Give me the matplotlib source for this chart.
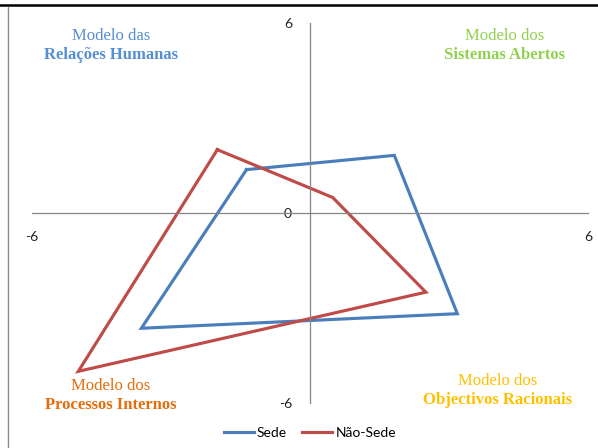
import matplotlib
matplotlib.use("Agg")
from matplotlib import pyplot as plt
from matplotlib.lines import Line2D

# Quadrant order: Relações Humanas, Sistemas Abertos, Objectivos Racionais, Processos Internos
sede_x = [-1.37, 1.82, 3.18, -3.64]
sede_y = [1.37, 1.82, -3.18, -3.64]
nao_sede_x = [-2.0, 0.49, 2.5, -5.0]
nao_sede_y = [2.0, 0.49, -2.5, -5.0]

series_labels = ["Sede", "Não-Sede"]
series_colors = ["#4A7EBB", "#BE4B48"]

quadrants = [
    # (line 1, line 2, colour, x, y)
    ("Modelo das", "Relações Humanas", "#558ED5", -4.3, 5.6),
    ("Modelo dos", "Sistemas Abertos", "#92D050", 4.2, 5.6),
    ("Modelo dos", "Processos Internos", "#E46C0A", -4.3, -5.45),
    ("Modelo dos", "Objectivos Racionais", "#FFC000", 4.05, -5.3),
]

fig = plt.figure(figsize=(5.98, 4.48), dpi=100)
ax = fig.add_axes([32 / 598, 45 / 448, 556 / 598, 380 / 448])

ax.plot(sede_x + sede_x[:1], sede_y + sede_y[:1], color=series_colors[0],
        lw=2.25, label=series_labels[0], solid_joinstyle="miter")
ax.plot(nao_sede_x + nao_sede_x[:1], nao_sede_y + nao_sede_y[:1], color=series_colors[1],
        lw=2.25, label=series_labels[1], solid_joinstyle="miter")

ax.set_xlim(-6, 6)
ax.set_ylim(-6, 6)

# Axes crossing at zero
for side in ["top", "right"]:
    ax.spines[side].set_visible(False)
for side in ["left", "bottom"]:
    ax.spines[side].set_position("zero")
    ax.spines[side].set_color("#868686")
    ax.spines[side].set_linewidth(0.9)

ax.set_xticks([-6, 6])
ax.set_xticklabels(["-6", "6"])
ax.set_yticks([-6, 0, 6])
ax.set_yticklabels(["-6", "0", "6"])
ax.tick_params(axis="x", length=0, pad=13, labelsize=10, labelcolor="#222222")
ax.tick_params(axis="y", length=0, pad=13, labelsize=10, labelcolor="#222222")
for lbl in ax.get_xticklabels() + ax.get_yticklabels():
    lbl.set_family("Lato")

# Quadrant labels
for line1, line2, color, qx, qy in quadrants:
    ax.text(qx, qy, line1, color=color, ha="center", va="center",
            family="Liberation Serif", fontsize=12)
    ax.text(qx, qy - 0.6, line2, color=color, ha="center", va="center",
            family="Liberation Serif", fontsize=12, fontweight="bold")

leg = fig.legend(loc="center", bbox_to_anchor=(310 / 598, 15 / 448), ncol=2, frameon=False,
                 prop={"family": "Lato", "size": 10}, handlelength=2.15,
                 handletextpad=0.25, columnspacing=1.1)

# Frame edges of the screenshot
fig.add_artist(Line2D([0, 1], [443 / 448, 443 / 448], color="black", lw=1.8,
                      transform=fig.transFigure))
fig.add_artist(Line2D([8 / 598, 8 / 598], [0, 441 / 448], color="#8c8c8c", lw=1.0,
                      transform=fig.transFigure))

fig.savefig("out.png", dpi=100)
